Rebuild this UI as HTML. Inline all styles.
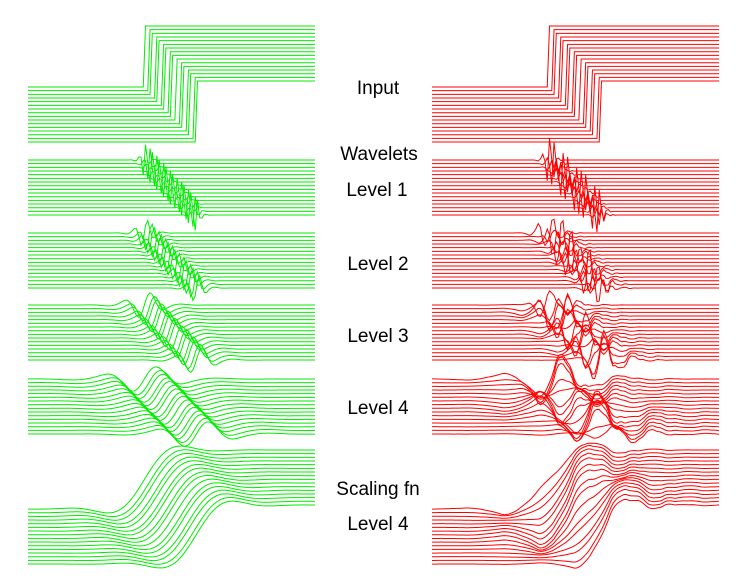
<!DOCTYPE html>
<html><head><meta charset="utf-8"><style>
html,body{margin:0;padding:0;background:#fff;}
svg{display:block;}
text{font-family:"Liberation Sans",Arial,sans-serif;font-size:19px;fill:#000;}
</style></head><body>
<svg id="fig" width="754" height="583" viewBox="0 0 754 583" xmlns="http://www.w3.org/2000/svg">
<g>
<text x="378" y="94" text-anchor="middle">Input</text>
<text x="379" y="160" text-anchor="middle">Wavelets</text>
<text x="377" y="196" text-anchor="middle">Level 1</text>
<text x="378" y="270" text-anchor="middle">Level 2</text>
<text x="378" y="342" text-anchor="middle">Level 3</text>
<text x="378" y="414" text-anchor="middle">Level 4</text>
<text x="378" y="495" text-anchor="middle">Scaling fn</text>
<text x="378" y="530" text-anchor="middle">Level 4</text>
</g>
</svg>
<script>
// step positions (sample index) for the 16 shifted inputs
const stepPositions = [116,118,119,121,122,124,125,127,128,130,132,133,135,136,138,139];
// band names and levels
const bandNames = ["input","level-1","level-2","level-3","level-4","scaling-level-4"];
const bandLevels = [0,1,2,3,4,4];
const bandTop = [87,160,233,305,379,509];
const bandGain = [61,61,61,61,61,59];
const panelNames = ["shift-invariant","dwt"];
const panelColors = ["#00ee00","#ff0000"];
const panelX0 = [28,432];

const N=256, V0=64, VN=128, W=287, SPACING=3.67;
const h=[0.2303778133088964,0.7148465705529154,0.6308807679298587,-0.0279837694168599,-0.1870348117190931,0.0308413818355607,0.0328830116668852,-0.0105974017850690];
const L=h.length;
const g=h.map((_,k)=>(k%2?-1:1)*h[L-1-k]);

function fwd(x){const n=x.length,a=new Array(n/2).fill(0),d=new Array(n/2).fill(0);
 for(let i=0;i<n/2;i++)for(let k=0;k<L;k++){const v=x[(2*i+k)%n];a[i]+=h[k]*v;d[i]+=g[k]*v;}return [a,d];}
function inv(a,d){const n=a.length*2,x=new Array(n).fill(0);
 for(let i=0;i<n/2;i++)for(let k=0;k<L;k++){x[(2*i+k)%n]+=h[k]*a[i]+g[k]*d[i];}return x;}
function recon(x,level,scaling){
 let a=x,ds=[];
 for(let j=1;j<=4;j++){const r=fwd(a);a=r[0];ds.push(r[1]);}
 if(!scaling)a=a.map(()=>0);
 for(let j=4;j>=1;j--){let d=ds[j-1];if(scaling||j!==level)d=d.map(()=>0);a=inv(a,d);}
 return a;}
function compute(pos,band,panel){
 const lev=bandLevels[band],sc=band===5;
 const sig=i=>i>=pos?1:0;
 if(lev===0){const r=[];for(let i=0;i<N;i++)r.push(sig(i));return r;}
 if(panel===1){const x=[];for(let i=0;i<N;i++)x.push(sig(i));return recon(x,lev,sc);}
 const acc=new Array(N).fill(0);
 for(let s=0;s<16;s++){const x=[];for(let i=0;i<N;i++)x.push(sig((i+s)%N));
  const r=recon(x,lev,sc);for(let i=0;i<N;i++)acc[(i+s)%N]+=r[i]/16;}
 return acc;}

const svg=document.getElementById('fig');
const NS="http://www.w3.org/2000/svg";
for(let p=0;p<2;p++){
 const pg=document.createElementNS(NS,'g');
 
 
 svg.appendChild(pg);
 for(let b=0;b<bandNames.length;b++){
  const bg=document.createElementNS(NS,'g');
  
  
  pg.appendChild(bg);
  for(let k=0;k<stepPositions.length;k++){
   const y=compute(stepPositions[k],b,p);
   const base=bandTop[b]+k*SPACING;
   let d='';
   for(let i=V0;i<V0+VN;i++){
    const px=panelX0[p]+(i-V0)/(VN-1)*W;
    const py=base-y[i]*bandGain[b];
    d+=(i===V0?'M':'L')+px.toFixed(2)+' '+py.toFixed(2);
   }
   const path=document.createElementNS(NS,'path');
   path.setAttribute('d',d);
   path.setAttribute('fill','none');
   path.setAttribute('stroke',panelColors[p]);
   path.setAttribute('stroke-width','1');
   
   
   bg.appendChild(path);
  }
 }
}
</script>
</body></html>
